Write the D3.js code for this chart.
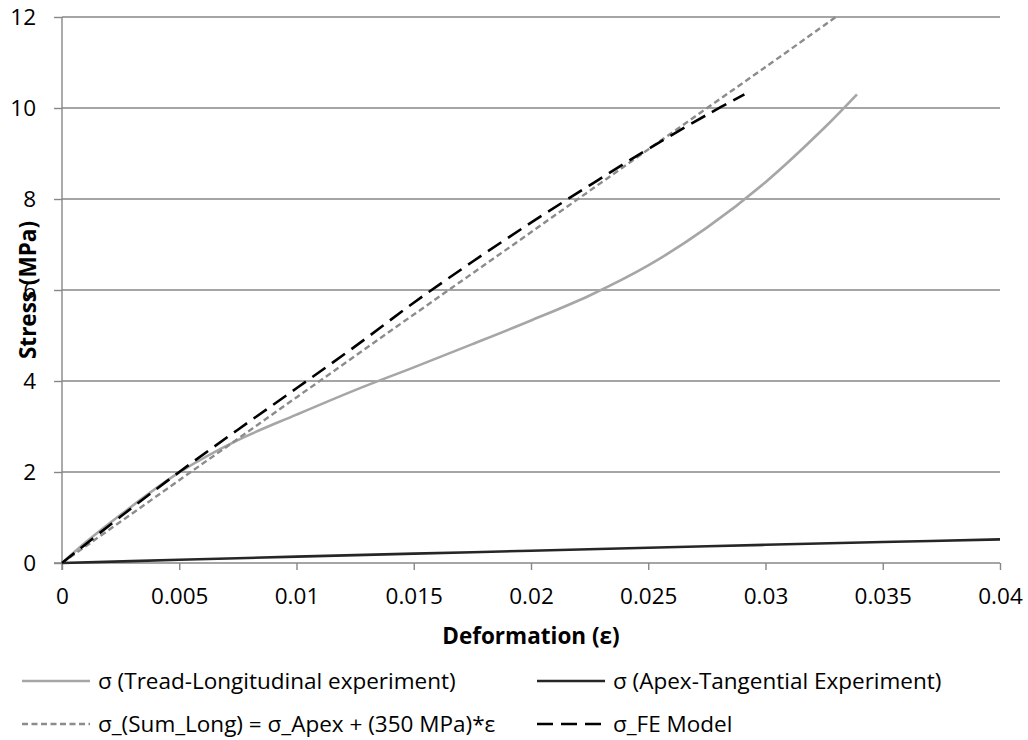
<!DOCTYPE html>
<html>
<head>
<meta charset="utf-8">
<script src="https://cdn.jsdelivr.net/npm/d3@7"></script>
<style>
  html, body { margin: 0; padding: 0; background: #fff; }
  svg { display: block; font-family: "Open Sans", "Liberation Sans", sans-serif; }
</style>
</head>
<body>
<svg id="chart" width="1028" height="740"></svg>
<script>
// Strain (ε) and stress (MPa) samples for each series
const treadStrain = [0, 0.001, 0.0025, 0.005, 0.0075, 0.01, 0.0125, 0.015, 0.0175, 0.02, 0.0225, 0.025, 0.0275, 0.03, 0.0325, 0.0339];
const treadStress = [0, 0.45, 1.06, 1.99, 2.70, 3.26, 3.80, 4.30, 4.81, 5.33, 5.88, 6.54, 7.37, 8.37, 9.56, 10.30];

const apexStrain = [0, 0.005, 0.01, 0.015, 0.02, 0.025, 0.03, 0.035, 0.04];
const apexStress = [0, 0.07, 0.14, 0.205, 0.27, 0.335, 0.40, 0.46, 0.52];

const sumStrain = [0, 0.005, 0.01, 0.015, 0.02, 0.025, 0.03, 0.033];
const sumStress = [0, 1.82, 3.64, 5.46, 7.27, 9.09, 10.9, 12.0];

const feStrain = [0, 0.0025, 0.005, 0.0075, 0.01, 0.0125, 0.015, 0.0175, 0.02, 0.0225, 0.025, 0.0275, 0.0291];
const feStress = [0, 1.02, 2.0, 2.93, 3.84, 4.76, 5.72, 6.62, 7.48, 8.30, 9.10, 9.85, 10.30];

// Axis ticks
const xTickValues = [0, 0.005, 0.01, 0.015, 0.02, 0.025, 0.03, 0.035, 0.04];
const xTickLabels = ["0", "0.005", "0.01", "0.015", "0.02", "0.025", "0.03", "0.035", "0.04"];
const yTickValues = [0, 2, 4, 6, 8, 10, 12];

const seriesNames = [
  "σ (Tread-Longitudinal experiment)",
  "σ (Apex-Tangential Experiment)",
  "σ_(Sum_Long) = σ_Apex + (350 MPa)*ε",
  "σ_FE Model"
];

const svg = d3.select("#chart");
const plot = { left: 62, right: 1000, top: 17, bottom: 563 };
const gridColor = "#878787";
const fontSize = 22.5;

const x = d3.scaleLinear().domain([0, 0.04]).range([plot.left, plot.right]);
const y = d3.scaleLinear().domain([0, 12]).range([plot.bottom, plot.top]);

// Horizontal gridlines
svg.append("g")
  .selectAll("line")
  .data(yTickValues.filter(v => v > 0))
  .join("line")
  .attr("x1", plot.left).attr("x2", plot.right)
  .attr("y1", d => y(d)).attr("y2", d => y(d))
  .attr("stroke", gridColor).attr("stroke-width", 1.4);

// Y axis
const yAxis = svg.append("g")
  .attr("transform", `translate(${plot.left},0)`)
  .call(d3.axisLeft(y).tickValues(yTickValues).tickSize(8).tickPadding(18).tickFormat(d3.format("d")));
yAxis.select(".domain").attr("stroke", gridColor).attr("stroke-width", 1.4).attr("d", `M-0,${plot.top}V${plot.bottom + 7}`);
yAxis.selectAll(".tick line").attr("stroke", gridColor).attr("stroke-width", 1.4);
yAxis.selectAll(".tick text").attr("font-size", fontSize).attr("fill", "#000").attr("font-family", "Open Sans");

// X axis
const xAxis = svg.append("g")
  .attr("transform", `translate(0,${plot.bottom})`)
  .call(d3.axisBottom(x).tickValues(xTickValues).tickSize(7).tickPadding(18)
    .tickFormat((d, i) => xTickLabels[i]));
xAxis.select(".domain").attr("stroke", gridColor).attr("stroke-width", 1.4).attr("d", `M${plot.left - 8},0H${plot.right}`);
xAxis.selectAll(".tick line").attr("stroke", gridColor).attr("stroke-width", 1.4);
xAxis.selectAll(".tick text").attr("font-size", fontSize).attr("fill", "#000").attr("font-family", "Open Sans");

// Series lines
const line = d3.line().x(d => x(d[0])).y(d => y(d[1])).curve(d3.curveCatmullRom.alpha(0.5));
const zip = (a, b) => a.map((v, i) => [v, b[i]]);

const series = [
  { name: seriesNames[0], pts: zip(treadStrain, treadStress), color: "#a6a6a6", width: 2.6, dash: null },
  { name: seriesNames[1], pts: zip(apexStrain, apexStress), color: "#262626", width: 2.6, dash: null },
  { name: seriesNames[2], pts: zip(sumStrain, sumStress), color: "#8c8c8c", width: 2.4, dash: "6,3.5" },
  { name: seriesNames[3], pts: zip(feStrain, feStress), color: "#000000", width: 2.6, dash: "16,8" }
];

svg.append("g")
  .selectAll("path")
  .data(series)
  .join("path")
  .attr("d", d => line(d.pts))
  .attr("fill", "none")
  .attr("stroke", d => d.color)
  .attr("stroke-width", d => d.width)
  .attr("stroke-dasharray", d => d.dash);

// Axis titles
svg.append("text")
  .attr("transform", `translate(36,${(plot.top + plot.bottom) / 2}) rotate(-90)`)
  .attr("text-anchor", "middle")
  .attr("font-size", fontSize).attr("font-weight", "bold")
  .text("Stress (MPa)");

svg.append("text")
  .attr("x", (plot.left + plot.right) / 2).attr("y", 644)
  .attr("text-anchor", "middle")
  .attr("font-size", fontSize).attr("font-weight", "bold")
  .text("Deformation (ε)");

// Legend, two columns by two rows
const legendPos = [
  { lx: 22, ly: 681 }, { lx: 537, ly: 681 },
  { lx: 22, ly: 724 }, { lx: 537, ly: 724 }
];
const legend = svg.append("g");
series.forEach((s, i) => {
  const p = legendPos[i];
  legend.append("line")
    .attr("x1", p.lx).attr("x2", p.lx + 68)
    .attr("y1", p.ly).attr("y2", p.ly)
    .attr("stroke", s.color).attr("stroke-width", s.width)
    .attr("stroke-dasharray", s.dash);
  legend.append("text")
    .attr("x", p.lx + 76).attr("y", p.ly + 8)
    .attr("font-size", fontSize)
    .text(s.name);
});
</script>
</body>
</html>
